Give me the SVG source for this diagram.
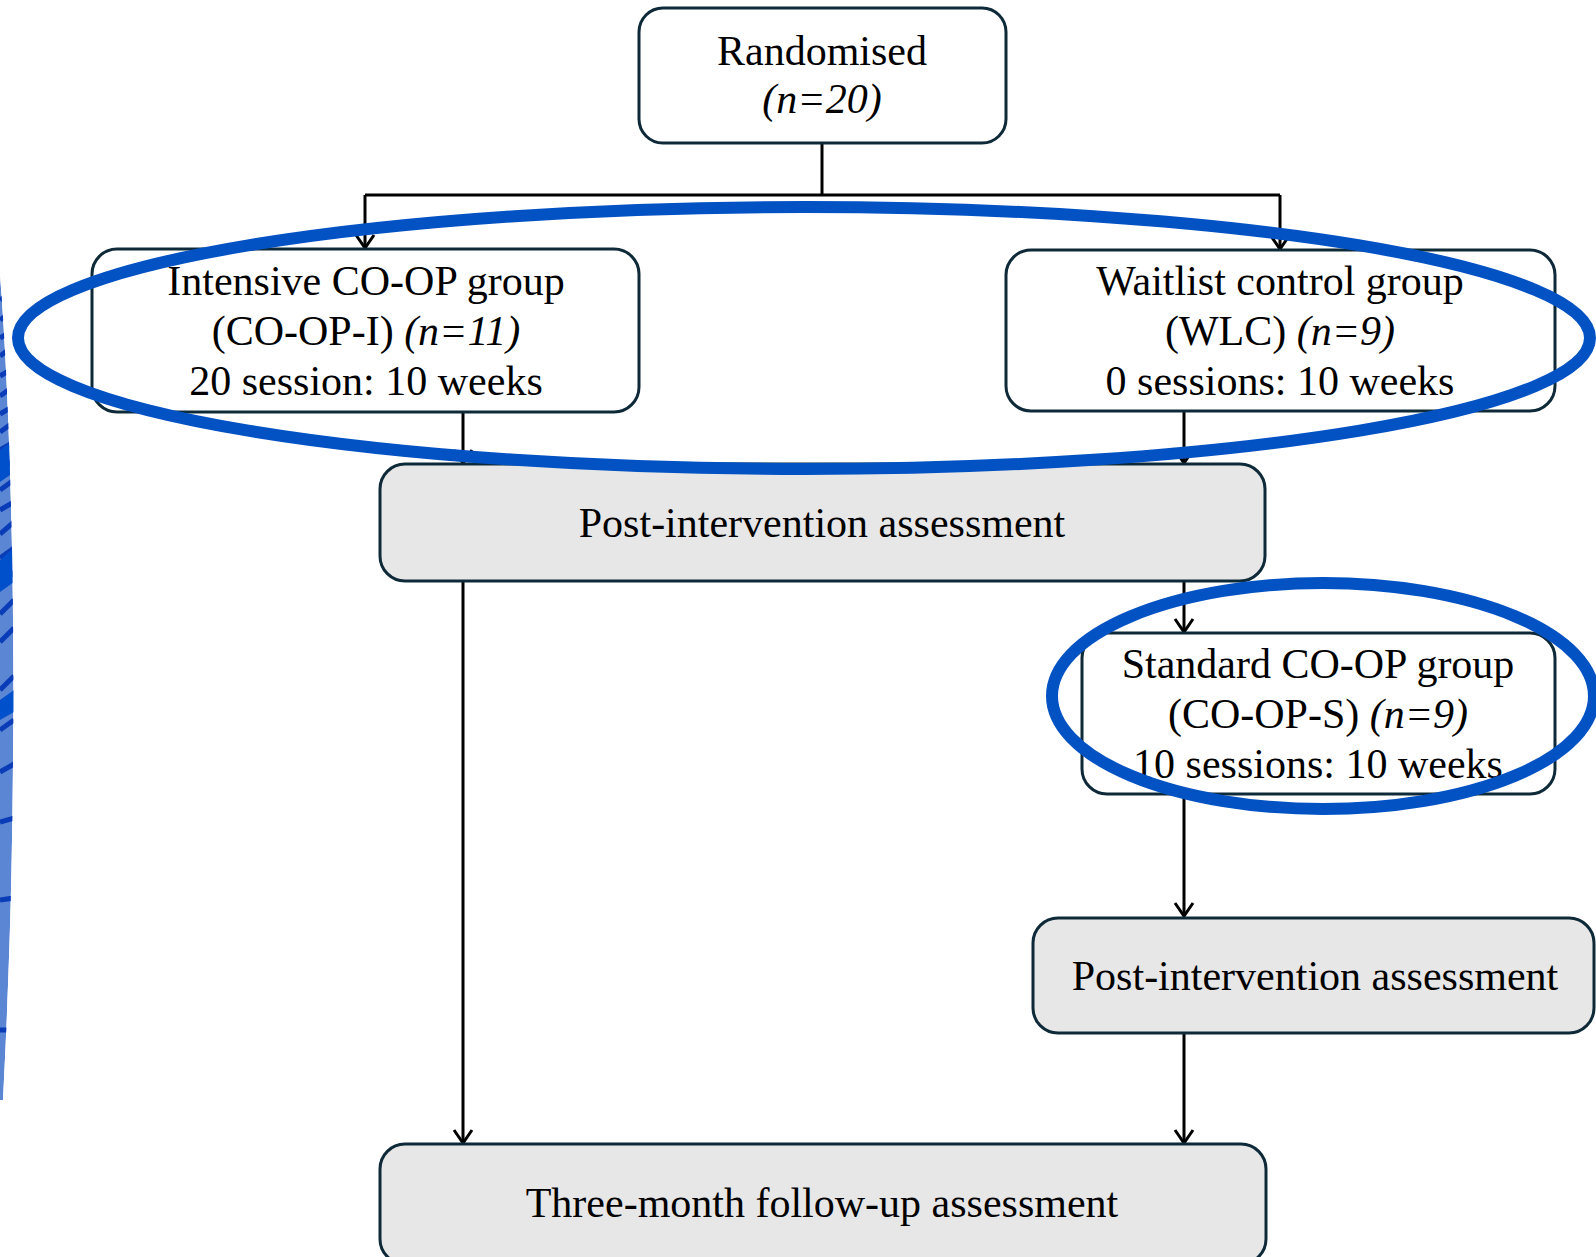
<svg xmlns="http://www.w3.org/2000/svg" width="1596" height="1257" viewBox="0 0 1596 1257">
<style>
.box{fill:#ffffff;stroke:#0e2a38;stroke-width:3}
.grey{fill:#e7e7e7;stroke:#0e2a38;stroke-width:3}
.t{font-family:"Liberation Serif","Times New Roman",serif;font-size:42px;fill:#000;text-anchor:middle}
.i{font-style:italic}
.c{fill:none;stroke:#000;stroke-width:3}
.hl{fill:none;stroke:#0352c4;stroke-width:12}
.stripe{fill:none;stroke:#0a3cb8;stroke-width:5}
</style>
<defs>
<marker id="arr" viewBox="0 0 28 28" refX="14" refY="14" markerWidth="28" markerHeight="28" markerUnits="userSpaceOnUse" orient="auto">
<path d="M1,5 L14,14 L1,23" fill="none" stroke="#000" stroke-width="3"/>
</marker>
<clipPath id="edgeclip"><path d="M0,275 C10,400 15,600 13,760 C12,900 8,1000 3,1100 L0,1100 Z"/></clipPath>
</defs>
<rect width="1596" height="1257" fill="#ffffff"/>
<g id="edge-artifact" clip-path="url(#edgeclip)">
<path d="M0,275 C10,400 15,600 13,760 C12,900 8,1000 3,1100 L0,1100 Z" fill="#5b86d3"/>
<path class="stripe" d="M0,300 L14,290 M0,320 L14,310 M0,338 L14,330 M0,356 L14,346 M0,376 L14,368 M0,396 L14,386 M0,414 L14,406 M0,432 L14,422 M0,450 L14,442 M0,470 L14,460 M0,490 L14,480 M0,510 L14,502 M0,534 L14,522 M0,558 L14,548 M0,586 L14,572 M0,614 L14,600 M0,642 L14,628 M0,690 L14,676 M0,730 L14,720 M0,772 L14,764 M0,822 L14,818 M0,900 L14,898 M0,1030 L14,1030"/>
<path d="M0,450 L14,440 L14,472 L0,482 Z M0,560 L14,548 L14,582 L0,592 Z M0,700 L14,690 L14,712 L0,720 Z" fill="#0050cc"/>
</g>
<g id="connectors">
<path class="c" d="M822,143 V195"/>
<path class="c" d="M365,195 H1280"/>
<path class="c" d="M365,195 V248" marker-end="url(#arr)"/>
<path class="c" d="M1280,195 V249" marker-end="url(#arr)"/>
<path class="c" d="M463,412 V463" marker-end="url(#arr)"/>
<path class="c" d="M1184,411 V463" marker-end="url(#arr)"/>
<path class="c" d="M463,581 V1143" marker-end="url(#arr)"/>
<path class="c" d="M1184,581 V632" marker-end="url(#arr)"/>
<path class="c" d="M1184,794 V916" marker-end="url(#arr)"/>
<path class="c" d="M1184,1033 V1143" marker-end="url(#arr)"/>
</g>
<g id="randomised">
<rect class="box" x="639" y="8" width="367" height="135" rx="24"/>
<text class="t" x="822" y="65">Randomised</text>
<text class="t i" x="822" y="113">(n=20)</text>
</g>
<g id="intensive">
<rect class="box" x="92" y="249" width="547" height="163" rx="25"/>
<text class="t" x="366" y="295">Intensive CO-OP group</text>
<text class="t" x="366" y="345">(CO-OP-I) <tspan class="i">(n=11)</tspan></text>
<text class="t" x="366" y="395">20 session: 10 weeks</text>
</g>
<g id="waitlist">
<rect class="box" x="1006" y="250" width="549" height="161" rx="25"/>
<text class="t" x="1280" y="295">Waitlist control group</text>
<text class="t" x="1280" y="345">(WLC) <tspan class="i">(n=9)</tspan></text>
<text class="t" x="1280" y="395">0 sessions: 10 weeks</text>
</g>
<g id="post1">
<rect class="grey" x="380" y="464" width="885" height="117" rx="25"/>
<text class="t" x="822" y="537">Post-intervention assessment</text>
</g>
<g id="standard">
<rect class="box" x="1082" y="633" width="473" height="161" rx="25"/>
<text class="t" x="1318" y="678">Standard CO-OP group</text>
<text class="t" x="1318" y="728">(CO-OP-S) <tspan class="i">(n=9)</tspan></text>
<text class="t" x="1318" y="778">10 sessions: 10 weeks</text>
</g>
<g id="post2">
<rect class="grey" x="1033" y="918" width="561" height="115" rx="25"/>
<text class="t" x="1315" y="990">Post-intervention assessment</text>
</g>
<g id="followup">
<rect class="grey" x="380" y="1144" width="886" height="120" rx="25"/>
<text class="t" x="822" y="1217">Three-month follow-up assessment</text>
</g>
<g id="highlights">
<ellipse class="hl" cx="804" cy="338" rx="786" ry="131"/>
<ellipse class="hl" cx="1323" cy="696" rx="271" ry="113"/>
</g>
</svg>
